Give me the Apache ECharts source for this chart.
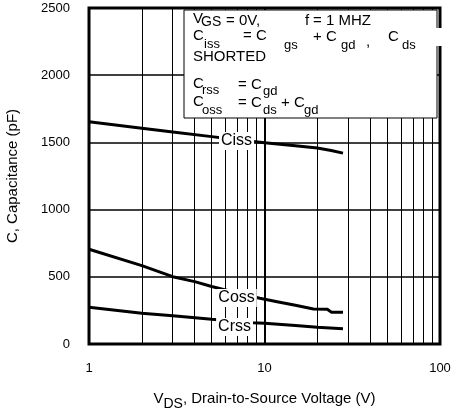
<!DOCTYPE html>
<html>
<head>
<meta charset="utf-8">
<script src="https://cdn.jsdelivr.net/npm/echarts@6/dist/echarts.min.js"></script>
<style>
html,body{margin:0;padding:0;background:#fff;}
#chart{width:453px;height:412px;}
</style>
</head>
<body>
<div id="chart"></div>
<script>
// ---- data ----
const xTickLabels = ['1', '10', '100'];
const yTicks = [0, 500, 1000, 1500, 2000, 2500];
const minorGridX = [2, 3, 4, 5, 6, 7, 8, 9, 20, 30, 40, 50, 60, 70, 80, 90];

const cissV = [1, 2, 3, 5, 7, 10, 15, 20, 24, 28];
const cissC = [1654, 1605, 1578, 1543, 1520, 1497, 1475, 1458, 1440, 1420];

const cossV = [1, 2, 3, 4, 5, 7, 9.4, 12, 15, 19, 22.8, 24, 28];
const cossC = [705, 583, 501, 464, 428, 380, 340, 313, 288, 261, 259, 237, 237];

const crssV = [1, 2, 3, 5, 8.6, 10, 15, 20, 28];
const crssC = [273, 229, 210, 184, 158, 155, 138, 124, 113];

const curveNames = ['Ciss', 'Coss', 'Crss'];
const labelAnchors = [[6.93, 1510], [6.93, 342], [6.75, 127]];

// ---- build ----
const pairs = (xs, ys) => xs.map((x, i) => [x, ys[i]]);
const seriesData = [pairs(cissV, cissC), pairs(cossV, cossC), pairs(crssV, crssC)];

const chart = echarts.init(document.getElementById('chart'), null, {renderer: 'canvas'});

const F = 'Liberation Sans, Arial, sans-serif';

const curveSeries = seriesData.map((d, i) => ({
  type: 'line',
  name: curveNames[i],
  data: d,
  symbol: 'none',
  smooth: false,
  z: 5,
  lineStyle: {color: '#000', width: 3}
}));

const labelSeries = {
  type: 'scatter',
  z: 20,
  symbolSize: 0,
  silent: true,
  itemStyle: {color: '#fff', opacity: 1},
  data: labelAnchors.map((c, i) => ({value: c, name: curveNames[i]})),
  label: {
    show: true,
    position: 'inside',
    formatter: (p) => p.name,
    color: '#000',
    opacity: 1,
    textBorderWidth: 0,
    textBorderColor: 'transparent',
    fontFamily: F,
    fontSize: 16,
    backgroundColor: '#fff',
    padding: [1, 2, 0, 2],
    lineHeight: 17
  }
};

const gridSeries = {
  type: 'line',
  data: [[1, 0]],
  symbol: 'none',
  z: 1,
  lineStyle: {opacity: 0},
  markLine: {
    silent: true,
    symbol: 'none',
    label: {show: false},
    lineStyle: {color: '#000', width: 1, type: 'solid'},
    data: minorGridX.map(v => ({xAxis: v}))
  }
};

function t(text, x, y, size) {
  return {type: 'text', z: 100, style: {text: text, x: x, y: y, font: size + 'px ' + F, fill: '#000', verticalAlign: 'middle', align: 'left'}};
}

const legendPieces = [
  t('V', 193, 19, 15), t('GS', 201, 22, 14), t('= 0V,', 226, 21, 15), t('f', 305, 21, 15), t('= 1 MHZ', 313, 21, 15),
  t('C', 193, 36, 15), t('iss', 204, 44, 13), t('= C', 243, 36, 15), t('gs', 284, 45, 13),
  t('+ C', 313, 37, 15), t('gd', 341, 45, 13), t(',', 366, 42, 15), t('C', 388, 37, 15), t('ds', 402, 45, 13),
  t('SHORTED', 193, 57, 15),
  t('C', 193, 84, 15), t('rss', 202, 90, 13), t('= C', 238, 85, 15), t('gd', 263, 91, 13),
  t('C', 193, 102, 15), t('oss', 202, 110, 13), t('= C', 238, 103, 15), t('ds', 263, 110, 13),
  t('+ C', 281, 103, 15), t('gd', 304, 110, 13)
];

const option = {
  animation: false,
  backgroundColor: '#fff',
  grid: {left: 89, right: 13, top: 8, bottom: 68, containLabel: false, outerBoundsMode: 'none',
    show: true, borderColor: '#000', borderWidth: 3, backgroundColor: 'transparent'},
  xAxis: {
    type: 'log',
    logBase: 10,
    min: 1,
    max: 100,
    axisLine: {show: false},
    axisTick: {show: false},
    splitLine: {show: true, lineStyle: {color: '#000', width: 2}},
    axisLabel: {
      color: '#000', fontFamily: F, fontSize: 13, margin: 18,
      formatter: (v) => { const s = String(Math.round(v)); return xTickLabels.indexOf(s) >= 0 ? s : ''; }
    },
    name: '{m|V}{s|DS}{m|, Drain-to-Source Voltage (V)}',
    nameLocation: 'middle',
    nameGap: 47,
    nameTextStyle: {
      color: '#000',
      rich: {
        m: {fontFamily: F, fontSize: 15, color: '#000', lineHeight: 20, verticalAlign: 'top'},
        s: {fontFamily: F, fontSize: 14, color: '#000', lineHeight: 20, verticalAlign: 'bottom'}
      }
    }
  },
  yAxis: {
    type: 'value',
    min: 0,
    max: 2500,
    interval: 500,
    axisLine: {show: false},
    axisTick: {show: false},
    splitLine: {show: true, lineStyle: {color: '#000', width: 1.5}},
    axisLabel: {color: '#000', fontFamily: F, fontSize: 13, margin: 19,
      formatter: (v) => yTicks.indexOf(v) >= 0 ? String(v) : ''},
    name: 'C, Capacitance (pF)',
    nameLocation: 'middle',
    nameGap: 69,
    nameTextStyle: {color: '#000', fontFamily: F, fontSize: 15}
  },
  graphic: {
    elements: [
      {type: 'rect', z: 99, shape: {x: 184, y: 10, width: 253, height: 108}, style: {fill: '#fff', stroke: '#000', lineWidth: 1}},
      {type: 'rect', z: 99, shape: {x: 430, y: 28, width: 16, height: 18}, style: {fill: '#fff'}}
    ].concat(legendPieces)
  },
  series: [gridSeries].concat(curveSeries).concat([labelSeries])
};

chart.setOption(option);
</script>
</body>
</html>
